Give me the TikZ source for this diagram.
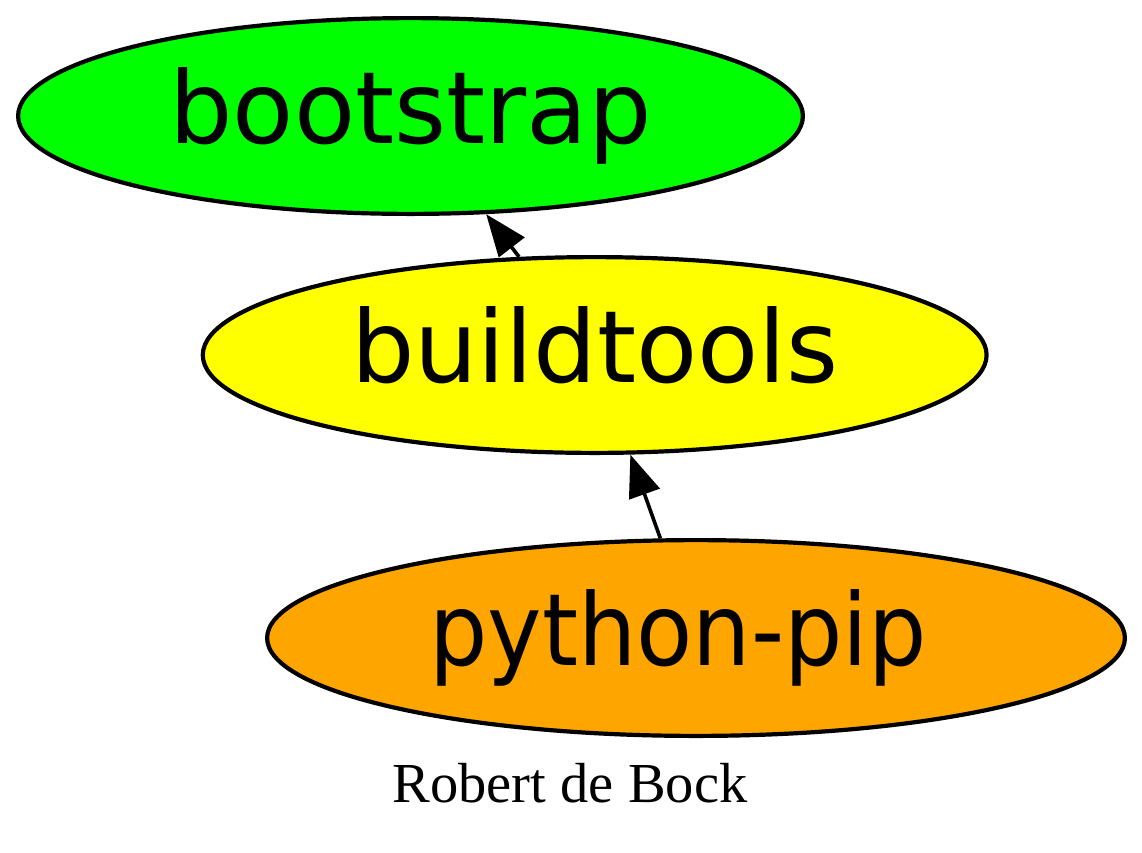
\documentclass[tikz,border=0pt]{standalone}
\usepackage{fontspec}
\setmainfont{Liberation Serif}
\setsansfont{DejaVu Sans}
\usetikzlibrary{arrows.meta,shapes.geometric}
\definecolor{bootfill}{HTML}{00FF00}
\definecolor{toolfill}{HTML}{FFFF00}
\definecolor{pipfill}{HTML}{FFA500}

\begin{document}
\begin{tikzpicture}[
  x=1pt, y=-1pt,
  >={Triangle[length=42pt, width=32pt]},
  pkg/.style={ellipse, draw=black, line width=4.2pt, inner sep=0pt,
    minimum height=195.8pt, text height=76pt, text depth=22pt,
    font=\sffamily\fontsize{100}{120}\selectfont},
  dep/.style={draw=black, line width=3.6pt, ->}
]
  \useasboundingbox (0,0) rectangle (1142,852);

  \node[pkg, fill=bootfill, minimum width=784.8pt] (bootstrap) at (410.5,116) {bootstrap};
  \node[pkg, fill=toolfill, minimum width=783.8pt] (buildtools) at (594.7,355) {buildtools};
  \node[pkg, fill=pipfill, minimum width=857.8pt] (pythonpip) at (696,638)
    {\hspace*{-36pt}\scalebox{0.92}[1]{python-pip}};

  \draw[dep] (buildtools) -- (bootstrap);
  \draw[dep] (pythonpip) -- (buildtools);

  \node[anchor=base, font=\fontsize{56.5}{68}\selectfont] (author) at (570,802)
    {Robert de Bock};
\end{tikzpicture}
\end{document}
